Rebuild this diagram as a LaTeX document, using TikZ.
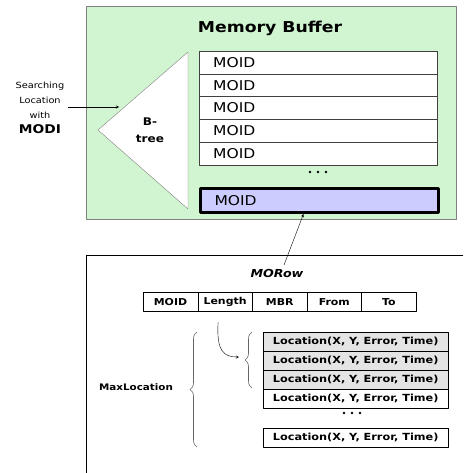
\documentclass[tikz,border=0pt]{standalone}
\usepackage{fontspec}
\setmainfont[FakeStretch=1.15]{DejaVu Sans}
\usetikzlibrary{positioning,decorations.pathreplacing}
\definecolor{bufgreen}{RGB}{208,245,208}
\definecolor{rowblue}{RGB}{204,204,255}
\definecolor{locgray}{RGB}{228,228,228}
\tikzset{
	moidrow/.style={draw=black!75, fill=white, anchor=north west, minimum width=238pt, minimum height=22.7pt,
		inner xsep=14pt, text width=210pt, align=left, font=\fontsize{13.5}{15}\selectfont},
	fieldcell/.style={draw, fill=white, anchor=north west, minimum width=54.6pt, minimum height=19pt,
		inner sep=0pt, font=\fontsize{9.5}{11}\bfseries},
	locrow/.style={draw, anchor=north west, minimum width=185pt, minimum height=19pt,
		inner sep=0pt, font=\fontsize{9.8}{11}\bfseries},
	bracedeco/.style={decorate, decoration={brace, amplitude=7pt}, gray!80!black, semithick},
	dot/.style={fill=black}
}
\begin{document}
\begin{tikzpicture}[x=1pt, y=-1pt, line join=round, >=stealth]
	\useasboundingbox (0,0) rectangle (463,473);
	% memory buffer
	\draw[gray, fill=bufgreen] (86,6) rectangle (456,219);
	\node[font=\fontsize{15}{17}\bfseries] (buftitle) at (270,28) {Memory Buffer};
	\draw[gray, fill=white] (188,52) -- (98,130) -- (188,209) -- cycle;
	\node[align=center, font=\fontsize{10.5}{17}\bfseries] (btree) at (150,130) {B-\\tree};
	\foreach \i in {0,...,4} \node[moidrow] (moid\i) at (199,{51+22.7*\i}) {MOID};
	\foreach \x in {310,318,326} \fill[dot] (\x,172) circle(1.3);
	\node[moidrow, fill=rowblue, line width=3pt, draw=black, minimum height=24pt] (moidlast) at (199,187) {MOID};
	\node[align=center, font=\fontsize{8.5}{15}\selectfont] (search) at (40,108)
		{Searching\\Location\\with\\{\fontsize{12}{15}\bfseries MODI}};
	\coordinate (treein) at (119,107);
	\draw[->] (search.east |- treein) -- (treein);
	% MORow
	\draw (463,255) -- (86,255) -- (86,473);
	\node[font=\fontsize{11}{13}\bfseries\itshape] (rowtitle) at (277,273) {MORow};
	\coordinate (rowtail) at (284,265);
	\draw[->] (rowtail) -- ([xshift=-16pt]moidlast.south);
	\foreach \lab [count=\i from 0] in {MOID,Length,MBR,From,To}
		\node[fieldcell] (f\lab) at ({143+54.6*\i},292) {\lab};
	\foreach \i in {0,...,3} {
		\ifnum\i<3 \def\c{locgray}\else\def\c{white}\fi
		\node[locrow, fill=\c] (loc\i) at (263,{332+19*\i}) {Location(X, Y, Error, Time)};
	}
	\foreach \x in {344,352,360} \fill[dot] (\x,413) circle(1.3);
	\node[locrow, fill=white] (loclast) at (263,428) {Location(X, Y, Error, Time)};
	\draw[bracedeco] (252,388) -- (252,332);
	\draw[bracedeco] (197,447) -- (197,332);
	\node[font=\fontsize{9}{11}\bfseries] (maxloc) at (136,387) {MaxLocation};
	\coordinate (locin) at (239,357);
	\draw[->] ([xshift=-7pt,yshift=-11pt]fLength.south) .. controls +(-2,30) and +(-14,0) .. (locin);
\end{tikzpicture}
\end{document}
